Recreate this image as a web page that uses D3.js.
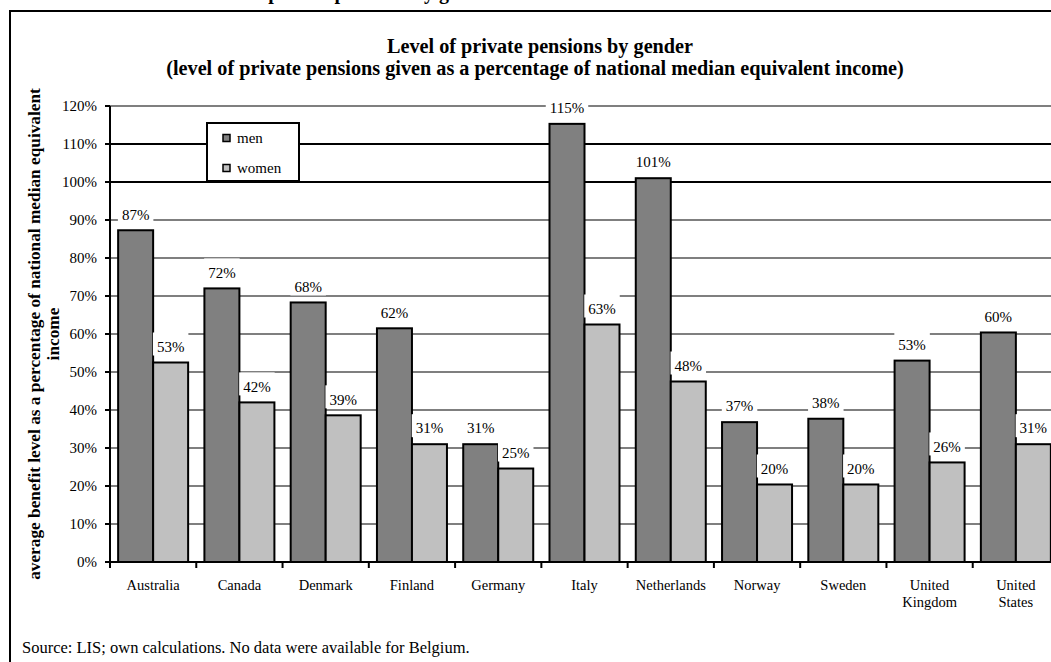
<!DOCTYPE html>
<html>
<head>
<meta charset="utf-8">
<script src="https://cdn.jsdelivr.net/npm/d3@7/dist/d3.min.js"></script>
<style>
  html, body { margin: 0; padding: 0; background: #fff; }
  svg { display: block; }
  text { font-family: "Liberation Serif", "Times New Roman", serif; fill: #000; }
</style>
</head>
<body>
<svg id="chart" width="1051" height="662"></svg>
<script>
// ---- data ----
const categories = ["Australia", "Canada", "Denmark", "Finland", "Germany", "Italy",
  "Netherlands", "Norway", "Sweden", "United Kingdom", "United States"];
const categoryLines = [["Australia"], ["Canada"], ["Denmark"], ["Finland"], ["Germany"], ["Italy"],
  ["Netherlands"], ["Norway"], ["Sweden"], ["United", "Kingdom"], ["United", "States"]];
const seriesNames = ["men", "women"];
const men   = [87.3, 72.0, 68.3, 61.5, 31.0, 115.3, 101.0, 36.8, 37.7, 53.0, 60.4];
const women = [52.5, 42.0, 38.6, 31.0, 24.6, 62.5, 47.5, 20.4, 20.4, 26.2, 31.0];
const yTicks = [0, 10, 20, 30, 40, 50, 60, 70, 80, 90, 100, 110, 120];
const titleLines = ["Level of private pensions by gender",
  "(level of private pensions given as a percentage of national median equivalent income)"];
const yTitleLines = ["average benefit level as a percentage of national median equivalent", "income"];
const sourceText = "Source: LIS; own calculations. No data were available for Belgium.";
const captionText = "Level of private pensions by gender";

// ---- layout ----
const svg = d3.select("#chart");
const colors = { men: "#808080", women: "#c0c0c0" };
const plot = { left: 110, right: 1059, top: 106, bottom: 562 };

const x = d3.scaleBand().domain(categories).range([plot.left, plot.right]).padding(0);
const y = d3.scaleLinear().domain([0, 120]).range([plot.bottom, plot.top]);
const barW = 35;

// cut-off caption at very top (only descenders visible, as in the reference)
svg.append("text").attr("x", 195).attr("y", -1)
  .style("font-weight", "bold").style("font-size", "20px").text(captionText);

// frame
svg.append("rect").attr("x", 10).attr("y", 11).attr("width", 1100).attr("height", 700)
  .attr("fill", "none").attr("stroke", "#000").attr("stroke-width", 2);

// helper to fit text width
function fit(sel, target) {
  const node = sel.node();
  let fs = parseFloat(sel.style("font-size"));
  const w = node.getComputedTextLength();
  fs = fs * target / w;
  sel.style("font-size", fs + "px");
  return fs;
}

// title
const t2 = svg.append("text").attr("x", 535).attr("y", 75).attr("text-anchor", "middle")
  .style("font-weight", "bold").style("font-size", "16px").text(titleLines[1]);
const tfs = fit(t2, 738);
svg.append("text").attr("x", 540).attr("y", 53).attr("text-anchor", "middle")
  .style("font-weight", "bold").style("font-size", tfs + "px").text(titleLines[0]);

// gridlines
svg.append("g").selectAll("line").data(yTicks.filter(d => d > 0)).join("line")
  .attr("x1", plot.left).attr("x2", plot.right)
  .attr("y1", d => y(d)).attr("y2", d => y(d))
  .attr("stroke", "#000")
  .attr("stroke-width", d => (d === 100 || d === 110) ? 2 : 1.2);

// bars
const off = (x.bandwidth() - 2 * barW) / 2;
const barData = [];
categories.forEach((c, i) => {
  barData.push({ c, s: "men", v: men[i], x: x(c) + off });
  barData.push({ c, s: "women", v: women[i], x: x(c) + off + barW });
});
svg.append("g").selectAll("rect").data(barData).join("rect")
  .attr("x", d => d.x).attr("width", barW)
  .attr("y", d => y(d.v)).attr("height", d => y(0) - y(d.v))
  .attr("fill", d => colors[d.s]).attr("stroke", "#000").attr("stroke-width", 2);

// data labels with white boxes
const lab = svg.append("g").selectAll("g").data(barData).join("g");
lab.each(function(d) {
  const g = d3.select(this);
  const cx = d.x + barW / 2;
  const cy = y(d.v) - 16;
  const t = g.append("text").attr("x", cx).attr("y", cy).attr("dy", "0.35em")
    .attr("text-anchor", "middle").style("font-size", "15px")
    .text(Math.round(d.v) + "%");
  const w = t.node().getComputedTextLength() + 8;
  g.insert("rect", "text").attr("x", cx - w / 2).attr("y", cy - 14)
    .attr("width", w).attr("height", 23).attr("fill", "#fff");
});

// y axis
const ya = svg.append("g");
ya.append("line").attr("x1", plot.left).attr("x2", plot.left)
  .attr("y1", plot.top).attr("y2", plot.bottom + 1).attr("stroke", "#000").attr("stroke-width", 2);
ya.selectAll(".tk").data(yTicks).join("line").attr("class", "tk")
  .attr("x1", plot.left - 5).attr("x2", plot.left)
  .attr("y1", d => y(d)).attr("y2", d => y(d)).attr("stroke", "#000").attr("stroke-width", 2);
ya.selectAll("text").data(yTicks).join("text")
  .attr("x", plot.left - 13).attr("y", d => y(d)).attr("dy", "0.35em")
  .attr("text-anchor", "end").style("font-size", "15px").text(d => d + "%");

// x axis
const xa = svg.append("g");
xa.append("line").attr("x1", plot.left - 5).attr("x2", plot.right)
  .attr("y1", plot.bottom).attr("y2", plot.bottom).attr("stroke", "#000").attr("stroke-width", 2);
xa.selectAll(".tk").data(categories).join("line").attr("class", "tk")
  .attr("x1", d => x(d)).attr("x2", d => x(d))
  .attr("y1", plot.bottom).attr("y2", plot.bottom + 6).attr("stroke", "#000").attr("stroke-width", 2);
categories.forEach((c, i) => {
  const t = xa.append("text").attr("x", x(c) + x.bandwidth() / 2).attr("y", 585)
    .attr("text-anchor", "middle").style("font-size", "14.5px");
  categoryLines[i].forEach((ln, j) => {
    t.append("tspan").attr("x", x(c) + x.bandwidth() / 2).attr("dy", j === 0 ? "0.35em" : "1.2em").text(ln);
  });
});

// y title
const yt = svg.append("g").attr("transform", "translate(34,334) rotate(-90)");
const yt1 = yt.append("text").attr("x", 0).attr("y", 0).attr("dy", "0.35em")
  .attr("text-anchor", "middle").style("font-weight", "bold").style("font-size", "15px").text(yTitleLines[0]);
const yfs = fit(yt1, 492);
yt.append("text").attr("x", 0).attr("y", 19).attr("dy", "0.35em")
  .attr("text-anchor", "middle").style("font-weight", "bold").style("font-size", yfs + "px").text(yTitleLines[1]);

// legend
const lg = svg.append("g");
lg.append("rect").attr("x", 207).attr("y", 123).attr("width", 92).attr("height", 58)
  .attr("fill", "#fff").attr("stroke", "#000").attr("stroke-width", 2);
seriesNames.forEach((s, i) => {
  const cy = 138 + i * 30;
  lg.append("rect").attr("x", 223).attr("y", cy - 3.5).attr("width", 7).attr("height", 7)
    .attr("fill", colors[s]).attr("stroke", "#000").attr("stroke-width", 1.5);
  lg.append("text").attr("x", 237).attr("y", cy).attr("dy", "0.35em")
    .style("font-size", "15px").text(s);
});

// source
const src = svg.append("text").attr("x", 22).attr("y", 647).attr("dy", "0.35em")
  .style("font-size", "15px").text(sourceText);
fit(src, 448);
</script>
</body>
</html>
